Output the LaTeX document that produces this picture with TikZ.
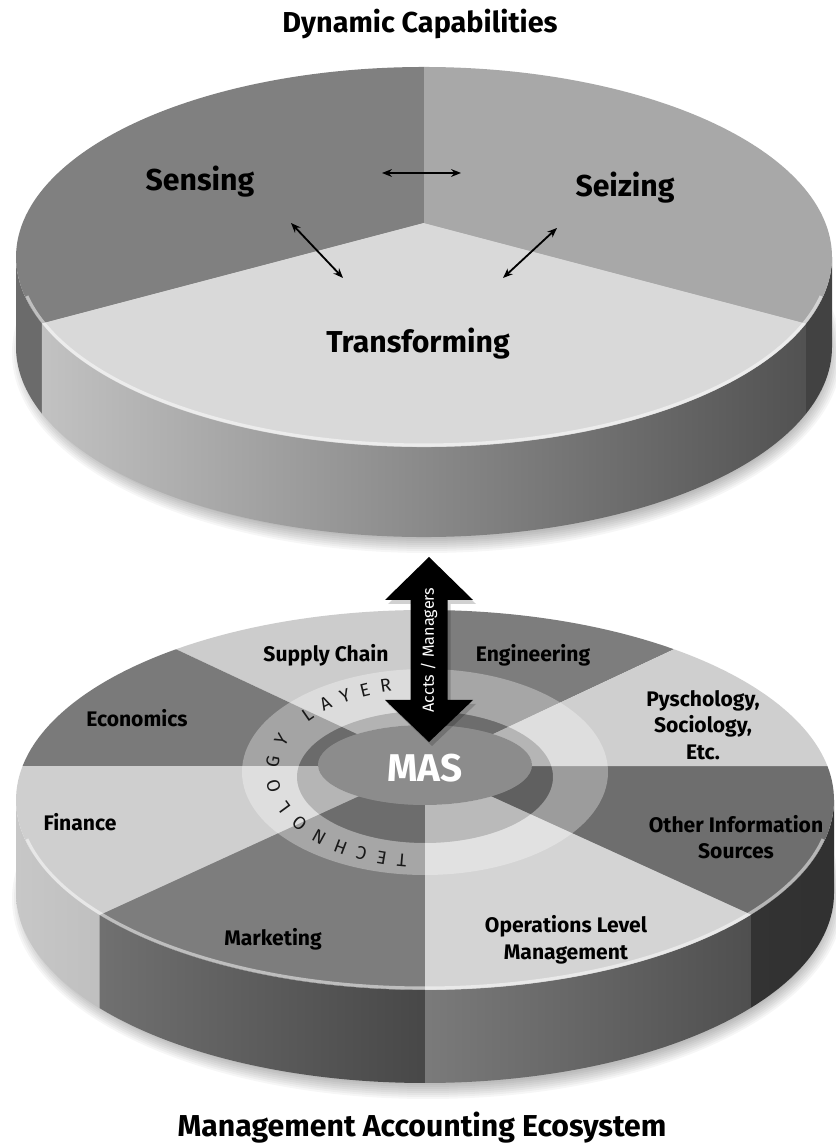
\documentclass[tikz,border=0pt]{standalone}
\usepackage{fontspec}
\setmainfont{Fira Sans}
\usetikzlibrary{arrows.meta,decorations.text}

\begin{document}
\begin{tikzpicture}[
  x=0.25mm, y=0.25mm,
  heading/.style={font=\fontsize{20.5}{24}\selectfont\bfseries, anchor=base},
  capab/.style={font=\fontsize{21.5}{26}\selectfont\bfseries, anchor=base},
  field/.style={font=\fontsize{15}{19}\selectfont\bfseries, align=center},
  link/.style={{Stealth[length=7pt,width=5.5pt]}-{Stealth[length=7pt,width=5.5pt]}, line width=1.3pt},
  bevel/.style={white, opacity=0.5, line width=2.2pt},
  haze/.style={black, opacity=0.035},
]
\useasboundingbox[fill=white] (0,0) rectangle (835,1143);

% === Dynamic capabilities (top pie) ===
\coordinate (E1) at (424,886);   % centre of the top face
\coordinate (M1) at (424,920);   % where the three slices meet

% soft shadow
\foreach \k in {0,...,7}
  \fill[haze] (427,790) ellipse[x radius={401+2*\k}, y radius={186+2*\k}];

% side wall
\fill[black!58] (E1) ++(180:408 and 190) arc[start angle=180, end angle=200.5, x radius=408, y radius=190]
  -- ++(0,-90) arc[start angle=200.5, end angle=180, x radius=408, y radius=190] -- cycle;
\shade[left color=black!24, right color=black!68] (E1) ++(200.5:408 and 190) arc[start angle=200.5, end angle=339.5, x radius=408, y radius=190]
  -- ++(0,-90) arc[start angle=339.5, end angle=200.5, x radius=408, y radius=190] -- cycle;
\fill[black!74] (E1) ++(339.5:408 and 190) arc[start angle=339.5, end angle=360, x radius=408, y radius=190]
  -- ++(0,-90) arc[start angle=360, end angle=339.5, x radius=408, y radius=190] -- cycle;

% top face
\fill[black!50] (E1) ++(90:408 and 190) arc[start angle=90, end angle=200.5, x radius=408, y radius=190] -- (M1) -- cycle;
\fill[black!15] (E1) ++(200.5:408 and 190) arc[start angle=200.5, end angle=339.5, x radius=408, y radius=190] -- (M1) -- cycle;
\fill[black!34] (E1) ++(339.5:408 and 190) arc[start angle=339.5, end angle=450, x radius=408, y radius=190] -- (M1) -- cycle;
\draw[bevel] (E1) ++(192:406 and 188) arc[start angle=192, end angle=348, x radius=406, y radius=188];

\node[heading] (dyn) at (420,1110) {Dynamic Capabilities};
\node[capab] (sense) at (200,952) {Sensing};
\node[capab] (seize) at (625,946) {Seizing};
\node[capab] (trans) at (418,790) {Transforming};

% links between the capabilities
\coordinate (ssA) at (382,970);
\coordinate (ssB) at (461,970);
\coordinate (stA) at (291,920);
\coordinate (stB) at (343,865);
\coordinate (ztA) at (557,915);
\coordinate (ztB) at (503,865);
\draw[link] (ssA) -- (ssB);
\draw[link] (stA) -- (stB);
\draw[link] (ztA) -- (ztB);

% === Management accounting ecosystem (bottom pie) ===
\coordinate (E2) at (425,343);
\coordinate (M2) at (425,377);

\foreach \k in {0,...,7}
  \fill[haze] (428,244) ellipse[x radius={402+2*\k}, y radius={186+2*\k}];

% side wall
\shade[left color=black!22, right color=black!36] (E2) ++(180:409 and 190) arc[start angle=180, end angle=217.3, x radius=409, y radius=190]
  -- ++(0,-93) arc[start angle=217.3, end angle=180, x radius=409, y radius=190] -- cycle;
\shade[left color=black!56, right color=black!72] (E2) ++(217.3:409 and 190) arc[start angle=217.3, end angle=270, x radius=409, y radius=190]
  -- ++(0,-93) arc[start angle=270, end angle=217.3, x radius=409, y radius=190] -- cycle;
\shade[left color=black!52, right color=black!69] (E2) ++(270:409 and 190) arc[start angle=270, end angle=322.9, x radius=409, y radius=190]
  -- ++(0,-93) arc[start angle=322.9, end angle=270, x radius=409, y radius=190] -- cycle;
\shade[left color=black!76, right color=black!81] (E2) ++(322.9:409 and 190) arc[start angle=322.9, end angle=360, x radius=409, y radius=190]
  -- ++(0,-93) arc[start angle=360, end angle=322.9, x radius=409, y radius=190] -- cycle;

% top face, eight slices
\foreach \ta/\tb/\col in {52.5/90/black!51, 90/127.5/black!20, 127.5/169.7/black!52,
    169.7/217.3/black!19, 217.3/270/black!51, 270/322.9/black!17, 322.9/370.3/black!57, 10.3/52.5/black!19}
  \fill[\col] (E2) ++(\ta:409 and 190) arc[start angle=\ta, end angle=\tb, x radius=409, y radius=190] -- (M2) -- cycle;
\draw[bevel] (E2) ++(192:407 and 188) arc[start angle=192, end angle=348, x radius=407, y radius=188];

% technology layer and MAS core
\coordinate (R) at (425,371);
\fill[white, opacity=0.32, even odd rule] (R) ellipse[x radius=183, y radius=103] (425,366) ellipse[x radius=128, y radius=66];
\fill[black, opacity=0.12, even odd rule] (425,366) ellipse[x radius=128, y radius=66] (425,378) ellipse[x radius=107, y radius=40];
\fill[black!45] (425,378) ellipse[x radius=107, y radius=40];
\path[decorate, decoration={text along path, text align={fit to path},
    text={|\fontsize{13}{15}\selectfont\color{black!90}|TECHNOLOGY LAYER}}]
  (R) ++(263:147 and 83) arc[start angle=263, end angle=103, x radius=147, y radius=83];

\node[font=\fontsize{27.5}{30}\selectfont\bfseries, text=white, anchor=base] (mas) at (425,361) {MAS};

\node[field] (supply) at (326,488) {Supply Chain};
\node[field] (engin) at (533,488) {Engineering};
\node[field] (econ) at (137,425) {Economics};
\node[field] (psych) at (703,418) {Pyschology,\\Sociology,\\Etc.};
\node[field] (fin) at (80,321) {Finance};
\node[field] (other) at (736,306) {Other Information\\Sources};
\node[field] (mkt) at (273,204) {Marketing};
\node[field] (ops) at (566,203) {Operations Level\\Management};

% accountants and managers carry MAS up to the capabilities
\fill[black, opacity=0.18] (432,582) -- (476,539) -- (450.5,539) -- (450.5,439) -- (476,439) -- (432,397)
  -- (388,439) -- (413.5,439) -- (413.5,539) -- (388,539) -- cycle;
\fill[black] (429,586) -- (473,543) -- (447.5,543) -- (447.5,443) -- (473,443) -- (429,401)
  -- (385,443) -- (410.5,443) -- (410.5,543) -- (385,543) -- cycle;
\node[rotate=90, text=white, font=\fontsize{11.5}{13}\selectfont] (acc) at (429,493) {Accts / Managers};

\node[heading, font=\fontsize{21.5}{26}\selectfont\bfseries] (mae) at (422,6) {Management Accounting Ecosystem};

\end{tikzpicture}
\end{document}
